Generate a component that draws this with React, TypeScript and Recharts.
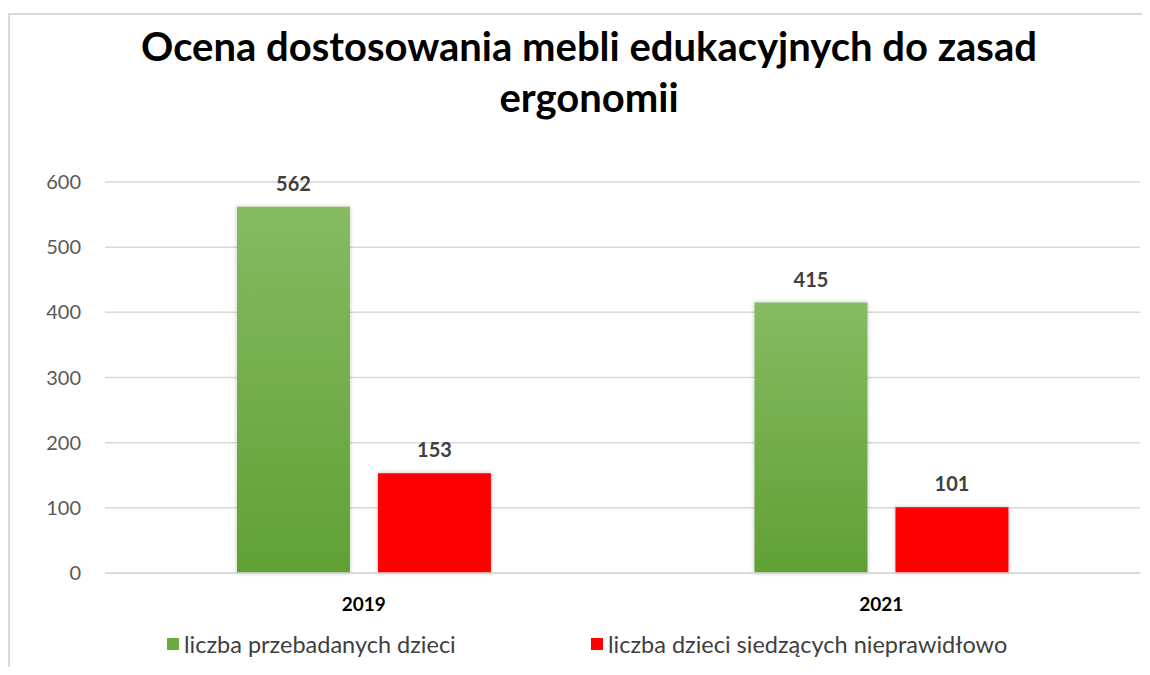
import { BarChart, Bar, XAxis, YAxis, CartesianGrid, LabelList } from "recharts";

const years = ["2019", "2021"];
const examined = [562, 415];
const sittingWrong = [153, 101];
const yTicks = [0, 100, 200, 300, 400, 500, 600];
const seriesNames = ["liczba przebadanych dzieci", "liczba dzieci siedzących nieprawidłowo"];

const data = years.map((y, i) => ({ year: y, examined: examined[i], wrong: sittingWrong[i] }));

const FONT = "Lato, 'Open Sans', sans-serif";

const App = () => {
  return (
    <div style={{ position: "relative", width: 1134, height: 659, fontFamily: FONT }}>
      {/* frame: top and left edges only */}
      <div style={{ position: "absolute", left: 0, top: 5, width: 1142, height: 2, background: "#d9d9d9" }} />
      <div style={{ position: "absolute", left: 0, top: 5, width: 2, height: 654, background: "#d9d9d9" }} />
      {/* title */}
      <div
        style={{
          position: "absolute",
          left: 0,
          top: 13,
          width: 1142,
          textAlign: "center",
          fontSize: 40,
          fontWeight: 700,
          lineHeight: "51px",
          color: "#000",
          whiteSpace: "nowrap",
        }}
      >
        <span style={{ position: "relative", left: 10 }}>Ocena dostosowania mebli edukacyjnych do zasad</span>
        <br />
        <span style={{ position: "relative", left: 10 }}>ergonomii</span>
      </div>
      <div style={{ position: "absolute", left: 0, top: 0 }}>
        <BarChart
          width={1142}
          height={659}
          data={data}
          margin={{ top: 174, right: 10, left: 0, bottom: 64 }}
          barCategoryGap="25.5%"
          barGap={28}
        >
          <defs>
            <linearGradient id="greenGrad" x1="0" y1="0" x2="0" y2="1">
              <stop offset="0%" stopColor="#86bb62" />
              <stop offset="100%" stopColor="#60a034" />
            </linearGradient>
            <filter id="barShadow" x="-10%" y="-10%" width="120%" height="120%">
              <feDropShadow dx="0" dy="0" stdDeviation="2" floodColor="#000" floodOpacity="0.25" />
            </filter>
          </defs>
          <CartesianGrid vertical={false} stroke="#d9d9d9" strokeWidth={1.5} />
          <YAxis
            width={97}
            domain={[0, 600]}
            ticks={yTicks}
            axisLine={false}
            tickLine={false}
            tickSize={0}
            tickMargin={24}
            tick={{ fill: "#595959", fontSize: 20, fontFamily: FONT }}
          />
          <XAxis
            dataKey="year"
            height={30}
            axisLine={{ stroke: "#d9d9d9", strokeWidth: 1.5 }}
            tickLine={false}
            tickSize={0}
            tickMargin={25}
            tick={{ fill: "#000", fontSize: 19, fontWeight: 700, fontFamily: FONT }}
          />
          <Bar
            dataKey="examined"
            name={seriesNames[0]}
            fill="url(#greenGrad)"
            filter="url(#barShadow)"
            isAnimationActive={false}
          >
            <LabelList
              dataKey="examined"
              position="top"
              offset={16}
              style={{ fill: "#404040", fontSize: 20, fontWeight: 700, fontFamily: FONT }}
            />
          </Bar>
          <Bar
            dataKey="wrong"
            name={seriesNames[1]}
            fill="#ff0000"
            filter="url(#barShadow)"
            isAnimationActive={false}
          >
            <LabelList
              dataKey="wrong"
              position="top"
              offset={16}
              style={{ fill: "#404040", fontSize: 20, fontWeight: 700, fontFamily: FONT }}
            />
          </Bar>
        </BarChart>
      </div>
      {/* legend */}
      <div
        style={{
          position: "absolute",
          left: 159,
          top: 622,
          display: "flex",
          alignItems: "center",
          fontSize: 23.5,
          color: "#404040",
          whiteSpace: "nowrap",
        }}
      >
        <span style={{ display: "inline-block", width: 12, height: 12, background: "#6aab40", marginRight: 5 }} />
        <span style={{ width: 407 }}>{seriesNames[0]}</span>
        <span style={{ display: "inline-block", width: 12, height: 12, background: "#ff0000", marginRight: 5 }} />
        <span>{seriesNames[1]}</span>
      </div>
    </div>
  );
};

export default App;
